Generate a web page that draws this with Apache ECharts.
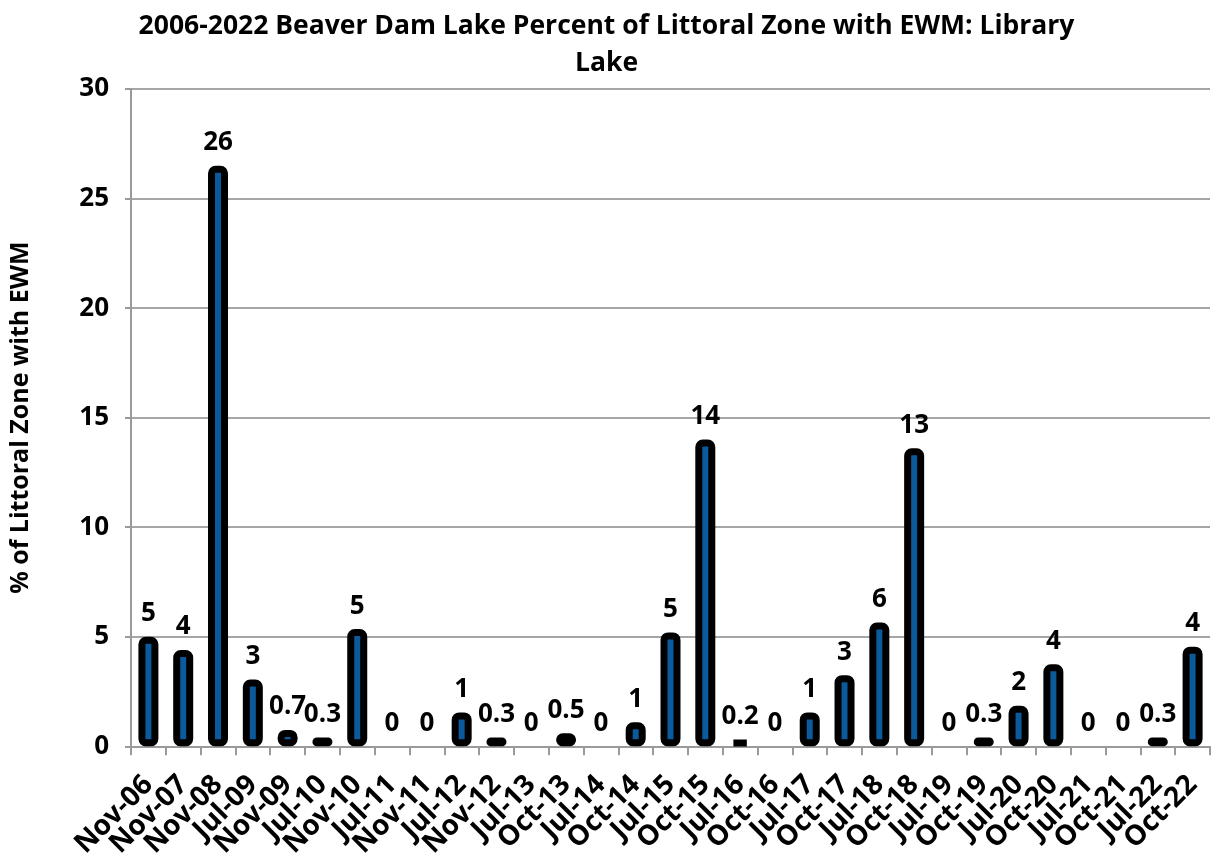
<!DOCTYPE html>
<html>
<head>
<meta charset="utf-8">
<script src="https://cdn.jsdelivr.net/npm/echarts@6/dist/echarts.min.js"></script>
<style>
    html, body { margin: 0; padding: 0; background: #fff; }
    #chart { width: 1213px; height: 861px; }
</style>
</head>
<body>
<div id="chart"></div>
<script>
    // survey dates
    var categories = ['Nov-06', 'Nov-07', 'Nov-08', 'Jul-09', 'Nov-09', 'Jul-10', 'Nov-10', 'Jul-11', 'Nov-11',
        'Jul-12', 'Nov-12', 'Jul-13', 'Oct-13', 'Jul-14', 'Oct-14', 'Jul-15', 'Oct-15', 'Jul-16', 'Oct-16',
        'Jul-17', 'Oct-17', 'Jul-18', 'Oct-18', 'Jul-19', 'Oct-19', 'Jul-20', 'Oct-20', 'Jul-21', 'Oct-21',
        'Jul-22', 'Oct-22'];
    // % of littoral zone with EWM
    var ewmValues = [5.0, 4.4, 26.5, 3.05, 0.75, 0.4, 5.35, 0, 0,
        1.55, 0.4, 0, 0.6, 0, 1.1, 5.2, 14.0, 0.3, 0,
        1.55, 3.25, 5.65, 13.6, 0, 0.4, 1.85, 3.75, 0, 0,
        0.4, 4.55];
    // labels as printed above the bars
    var ewmLabels = ['5', '4', '26', '3', '0.7', '0.3', '5', '0', '0',
        '1', '0.3', '0', '0.5', '0', '1', '5', '14', '0.2', '0',
        '1', '3', '6', '13', '0', '0.3', '2', '4', '0', '0',
        '0.3', '4'];
    var yTicks = [0, 5, 10, 15, 20, 25, 30];

    var fontFam = '"Open Sans", "Noto Sans", sans-serif';

    var barData = ewmValues.map(function (v, i) {
        var item = { value: v, label: ewmLabels[i] };
        if (v === 0) {
            // nothing drawn for empty surveys, only the "0" label
            item.itemStyle = { borderWidth: 0, color: 'rgba(0,0,0,0)' };
        }
        return item;
    });

    var myChart = echarts.init(document.getElementById('chart'));
    myChart.setOption({
        animation: false,
        title: {
            text: '2006-2022 Beaver Dam Lake Percent of Littoral Zone with EWM: Library\nLake',
            left: 'center',
            top: 3,
            textStyle: {
                fontFamily: fontFam,
                fontWeight: 'bold',
                fontSize: 26.5,
                color: '#000',
                lineHeight: 37
            }
        },
        grid: {
            left: 127,
            right: 3,
            top: 89,
            bottom: 113,
            containLabel: false
        },
        xAxis: {
            type: 'category',
            data: categories,
            axisLine: { lineStyle: { color: '#9a9a9a', width: 2 } },
            axisTick: { show: true, length: 9, lineStyle: { color: '#9a9a9a', width: 2 } },
            axisLabel: {
                interval: 0,
                rotate: 45,
                margin: 34,
                color: '#000',
                fontFamily: fontFam,
                fontWeight: 'bold',
                fontSize: 28
            }
        },
        yAxis: {
            type: 'value',
            min: yTicks[0],
            max: yTicks[yTicks.length - 1],
            interval: 5,
            name: '% of Littoral Zone with EWM',
            nameLocation: 'middle',
            nameGap: 84,
            nameRotate: 90,
            nameTextStyle: {
                color: '#000',
                fontFamily: fontFam,
                fontWeight: 'bold',
                fontSize: 25,
                padding: [0, 0, 14, 0]
            },
            axisLine: { show: true, lineStyle: { color: '#9a9a9a', width: 2 } },
            axisTick: { show: true, length: 6, lineStyle: { color: '#9a9a9a', width: 2 } },
            axisLabel: {
                margin: 22,
                color: '#000',
                fontFamily: fontFam,
                fontWeight: 'bold',
                fontSize: 26
            },
            splitLine: { lineStyle: { color: '#a6a6a6', width: 2 } }
        },
        series: [{
            type: 'bar',
            data: barData,
            barWidth: 20,
            itemStyle: {
                color: '#0b5a9c',
                borderColor: '#000',
                borderWidth: 7,
                borderRadius: 4
            },
            label: {
                show: true,
                position: 'top',
                distance: 10,
                color: '#000',
                fontFamily: fontFam,
                fontWeight: 'bold',
                fontSize: 26,
                formatter: function (p) { return p.data.label; }
            }
        }]
    });
</script>
</body>
</html>
